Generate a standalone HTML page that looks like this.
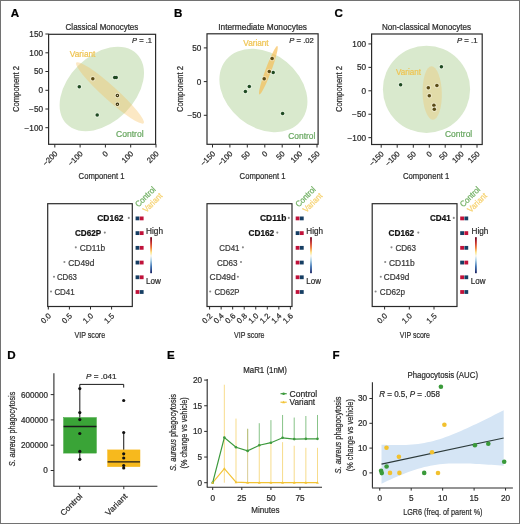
<!DOCTYPE html>
<html><head><meta charset="utf-8"><style>
html,body{margin:0;padding:0;background:#fff;}
svg{display:block;font-family:"Liberation Sans", sans-serif;will-change:transform;}
</style></head><body>
<svg width="520" height="524" viewBox="0 0 520 524">
<defs><linearGradient id="cbar" x1="0" y1="0" x2="0" y2="1"><stop offset="0" stop-color="#67001f"/><stop offset="0.15" stop-color="#c42b2b"/><stop offset="0.3" stop-color="#f4823c"/><stop offset="0.42" stop-color="#fde68a"/><stop offset="0.52" stop-color="#f7f7f2"/><stop offset="0.65" stop-color="#a9d0e6"/><stop offset="0.82" stop-color="#3a6fb0"/><stop offset="1" stop-color="#1a2060"/></linearGradient></defs>
<rect x="0" y="0" width="520" height="524" fill="#fff"/>
<text x="10.80" y="16.70" font-size="11.6" fill="#000" stroke="#000" stroke-width="0.22" font-weight="bold" >A</text>
<text x="174.00" y="16.80" font-size="11.6" fill="#000" stroke="#000" stroke-width="0.22" font-weight="bold" >B</text>
<text x="334.50" y="16.80" font-size="11.6" fill="#000" stroke="#000" stroke-width="0.22" font-weight="bold" >C</text>
<text x="7.20" y="358.60" font-size="11.6" fill="#000" stroke="#000" stroke-width="0.22" font-weight="bold" >D</text>
<text x="167.00" y="358.60" font-size="11.6" fill="#000" stroke="#000" stroke-width="0.22" font-weight="bold" >E</text>
<text x="332.40" y="358.60" font-size="11.6" fill="#000" stroke="#000" stroke-width="0.22" font-weight="bold" >F</text>
<text x="65.60" y="29.60" font-size="8.6" fill="#2b2b2b" stroke="#2b2b2b" stroke-width="0.22" textLength="72.70" lengthAdjust="spacingAndGlyphs" >Classical Monocytes</text>
<text x="132.00" y="42.6" font-size="8" fill="#2b2b2b" stroke="#2b2b2b" stroke-width="0.22" textLength="20.00" lengthAdjust="spacingAndGlyphs"><tspan font-style="italic">P</tspan> = .1</text>
<ellipse cx="101.80" cy="89.00" rx="49.60" ry="33.20" transform="rotate(-45 101.80 89.00)" fill="#d9e9cd" />
<ellipse cx="110.00" cy="92.90" rx="45.30" ry="6.90" transform="rotate(42.0 110.00 92.90)" fill="#f6bd53" fill-opacity="0.34"/>
<circle cx="79.30" cy="86.80" r="2.7" fill="#fff" stroke="none" stroke-width="0" fill-opacity="0.35"/>
<circle cx="114.70" cy="77.50" r="2.7" fill="#fff" stroke="none" stroke-width="0" fill-opacity="0.35"/>
<circle cx="116.20" cy="77.60" r="2.7" fill="#fff" stroke="none" stroke-width="0" fill-opacity="0.35"/>
<circle cx="97.20" cy="115.10" r="2.7" fill="#fff" stroke="none" stroke-width="0" fill-opacity="0.35"/>
<circle cx="79.30" cy="86.80" r="1.75" fill="#1f4a22" stroke="none" stroke-width="0" />
<circle cx="114.70" cy="77.50" r="1.75" fill="#1f4a22" stroke="none" stroke-width="0" />
<circle cx="116.20" cy="77.60" r="1.75" fill="#1f4a22" stroke="none" stroke-width="0" />
<circle cx="97.20" cy="115.10" r="1.75" fill="#1f4a22" stroke="none" stroke-width="0" />
<circle cx="92.80" cy="78.80" r="2.7" fill="#fff" stroke="none" stroke-width="0" fill-opacity="0.35"/>
<circle cx="92.80" cy="78.80" r="1.75" fill="#5a4b16" stroke="none" stroke-width="0" />
<circle cx="117.40" cy="95.40" r="2.6" fill="#fff" stroke="none" stroke-width="0" fill-opacity="0.35"/>
<circle cx="117.40" cy="95.40" r="1.2" fill="#efe2ae" stroke="#3d3410" stroke-width="1.15" />
<circle cx="117.40" cy="104.30" r="2.6" fill="#fff" stroke="none" stroke-width="0" fill-opacity="0.35"/>
<circle cx="117.40" cy="104.30" r="1.2" fill="#efe2ae" stroke="#3d3410" stroke-width="1.15" />
<text x="69.80" y="56.50" font-size="8.2" fill="#efc452" stroke="#efc452" stroke-width="0.22" textLength="25.60" lengthAdjust="spacingAndGlyphs" >Variant</text>
<text x="116.00" y="136.80" font-size="8.6" fill="#6aa862" stroke="#6aa862" stroke-width="0.22" textLength="27.60" lengthAdjust="spacingAndGlyphs" >Control</text>
<rect x="48.60" y="34.30" width="107.00" height="110.00" fill="none" stroke="#2a2a2a" stroke-width="1.2" />
<line x1="45.40" y1="34.00" x2="48.60" y2="34.00" stroke="#2a2a2a" stroke-width="1" />
<text x="43.00" y="36.90" font-size="8.2" fill="#2b2b2b" stroke="#2b2b2b" stroke-width="0.22" text-anchor="end" >150</text>
<line x1="45.40" y1="52.80" x2="48.60" y2="52.80" stroke="#2a2a2a" stroke-width="1" />
<text x="43.00" y="55.70" font-size="8.2" fill="#2b2b2b" stroke="#2b2b2b" stroke-width="0.22" text-anchor="end" >100</text>
<line x1="45.40" y1="71.50" x2="48.60" y2="71.50" stroke="#2a2a2a" stroke-width="1" />
<text x="43.00" y="74.40" font-size="8.2" fill="#2b2b2b" stroke="#2b2b2b" stroke-width="0.22" text-anchor="end" >50</text>
<line x1="45.40" y1="90.30" x2="48.60" y2="90.30" stroke="#2a2a2a" stroke-width="1" />
<text x="43.00" y="93.20" font-size="8.2" fill="#2b2b2b" stroke="#2b2b2b" stroke-width="0.22" text-anchor="end" >0</text>
<line x1="45.40" y1="109.00" x2="48.60" y2="109.00" stroke="#2a2a2a" stroke-width="1" />
<text x="43.00" y="111.90" font-size="8.2" fill="#2b2b2b" stroke="#2b2b2b" stroke-width="0.22" text-anchor="end" >−50</text>
<line x1="45.40" y1="127.70" x2="48.60" y2="127.70" stroke="#2a2a2a" stroke-width="1" />
<text x="43.00" y="130.60" font-size="8.2" fill="#2b2b2b" stroke="#2b2b2b" stroke-width="0.22" text-anchor="end" >−100</text>
<line x1="54.80" y1="144.30" x2="54.80" y2="147.50" stroke="#2a2a2a" stroke-width="1" />
<text x="58.00" y="154.30" font-size="7.7" fill="#2b2b2b" stroke="#2b2b2b" stroke-width="0.22" text-anchor="end" transform="rotate(-45 58.00 154.30)" >−200</text>
<line x1="80.10" y1="144.30" x2="80.10" y2="147.50" stroke="#2a2a2a" stroke-width="1" />
<text x="83.30" y="154.30" font-size="7.7" fill="#2b2b2b" stroke="#2b2b2b" stroke-width="0.22" text-anchor="end" transform="rotate(-45 83.30 154.30)" >−100</text>
<line x1="105.40" y1="144.30" x2="105.40" y2="147.50" stroke="#2a2a2a" stroke-width="1" />
<text x="108.60" y="154.30" font-size="7.7" fill="#2b2b2b" stroke="#2b2b2b" stroke-width="0.22" text-anchor="end" transform="rotate(-45 108.60 154.30)" >0</text>
<line x1="130.70" y1="144.30" x2="130.70" y2="147.50" stroke="#2a2a2a" stroke-width="1" />
<text x="133.90" y="154.30" font-size="7.7" fill="#2b2b2b" stroke="#2b2b2b" stroke-width="0.22" text-anchor="end" transform="rotate(-45 133.90 154.30)" >100</text>
<line x1="156.00" y1="144.30" x2="156.00" y2="147.50" stroke="#2a2a2a" stroke-width="1" />
<text x="159.20" y="154.30" font-size="7.7" fill="#2b2b2b" stroke="#2b2b2b" stroke-width="0.22" text-anchor="end" transform="rotate(-45 159.20 154.30)" >200</text>
<text x="78.60" y="179.00" font-size="9.7" fill="#2b2b2b" stroke="#2b2b2b" stroke-width="0.22" textLength="46.00" lengthAdjust="spacingAndGlyphs" >Component 1</text>
<text x="0" y="0" font-size="9.2" fill="#2b2b2b" stroke="#2b2b2b" stroke-width="0.22" text-anchor="middle" transform="translate(18.81 89.05) rotate(-90)" textLength="46.00" lengthAdjust="spacingAndGlyphs">Component 2</text>
<text x="218.20" y="29.60" font-size="8.6" fill="#2b2b2b" stroke="#2b2b2b" stroke-width="0.22" textLength="88.80" lengthAdjust="spacingAndGlyphs" >Intermediate Monocytes</text>
<text x="289.30" y="42.6" font-size="8" fill="#2b2b2b" stroke="#2b2b2b" stroke-width="0.22" textLength="24.50" lengthAdjust="spacingAndGlyphs"><tspan font-style="italic">P</tspan> = .02</text>
<ellipse cx="263.40" cy="90.50" rx="48.30" ry="36.70" transform="rotate(39.2 263.40 90.50)" fill="#d9e9cd" />
<ellipse cx="268.40" cy="70.20" rx="25.80" ry="2.90" transform="rotate(-69.6 268.40 70.20)" fill="#f6bd53" fill-opacity="0.68"/>
<circle cx="273.20" cy="72.40" r="2.7" fill="#fff" stroke="none" stroke-width="0" fill-opacity="0.35"/>
<circle cx="249.30" cy="86.50" r="2.7" fill="#fff" stroke="none" stroke-width="0" fill-opacity="0.35"/>
<circle cx="245.40" cy="91.60" r="2.7" fill="#fff" stroke="none" stroke-width="0" fill-opacity="0.35"/>
<circle cx="282.60" cy="113.60" r="2.7" fill="#fff" stroke="none" stroke-width="0" fill-opacity="0.35"/>
<circle cx="273.20" cy="72.40" r="1.75" fill="#1f4a22" stroke="none" stroke-width="0" />
<circle cx="249.30" cy="86.50" r="1.75" fill="#1f4a22" stroke="none" stroke-width="0" />
<circle cx="245.40" cy="91.60" r="1.75" fill="#1f4a22" stroke="none" stroke-width="0" />
<circle cx="282.60" cy="113.60" r="1.75" fill="#1f4a22" stroke="none" stroke-width="0" />
<circle cx="272.10" cy="58.50" r="2.7" fill="#fff" stroke="none" stroke-width="0" fill-opacity="0.35"/>
<circle cx="272.10" cy="58.50" r="1.75" fill="#5a4b16" stroke="none" stroke-width="0" />
<circle cx="269.30" cy="71.40" r="2.7" fill="#fff" stroke="none" stroke-width="0" fill-opacity="0.35"/>
<circle cx="269.30" cy="71.40" r="1.75" fill="#5a4b16" stroke="none" stroke-width="0" />
<circle cx="264.20" cy="78.80" r="2.7" fill="#fff" stroke="none" stroke-width="0" fill-opacity="0.35"/>
<circle cx="264.20" cy="78.80" r="1.75" fill="#5a4b16" stroke="none" stroke-width="0" />
<text x="243.30" y="45.80" font-size="8.2" fill="#efc452" stroke="#efc452" stroke-width="0.22" textLength="25.30" lengthAdjust="spacingAndGlyphs" >Variant</text>
<text x="288.30" y="138.70" font-size="8.6" fill="#6aa862" stroke="#6aa862" stroke-width="0.22" textLength="27.00" lengthAdjust="spacingAndGlyphs" >Control</text>
<rect x="207.00" y="33.80" width="111.10" height="110.50" fill="none" stroke="#2a2a2a" stroke-width="1.2" />
<line x1="203.80" y1="47.90" x2="207.00" y2="47.90" stroke="#2a2a2a" stroke-width="1" />
<text x="201.40" y="50.80" font-size="8.2" fill="#2b2b2b" stroke="#2b2b2b" stroke-width="0.22" text-anchor="end" >50</text>
<line x1="203.80" y1="81.60" x2="207.00" y2="81.60" stroke="#2a2a2a" stroke-width="1" />
<text x="201.40" y="84.50" font-size="8.2" fill="#2b2b2b" stroke="#2b2b2b" stroke-width="0.22" text-anchor="end" >0</text>
<line x1="203.80" y1="115.30" x2="207.00" y2="115.30" stroke="#2a2a2a" stroke-width="1" />
<text x="201.40" y="118.20" font-size="8.2" fill="#2b2b2b" stroke="#2b2b2b" stroke-width="0.22" text-anchor="end" >−50</text>
<line x1="212.50" y1="144.30" x2="212.50" y2="147.50" stroke="#2a2a2a" stroke-width="1" />
<text x="215.70" y="154.30" font-size="7.7" fill="#2b2b2b" stroke="#2b2b2b" stroke-width="0.22" text-anchor="end" transform="rotate(-45 215.70 154.30)" >−150</text>
<line x1="229.90" y1="144.30" x2="229.90" y2="147.50" stroke="#2a2a2a" stroke-width="1" />
<text x="233.10" y="154.30" font-size="7.7" fill="#2b2b2b" stroke="#2b2b2b" stroke-width="0.22" text-anchor="end" transform="rotate(-45 233.10 154.30)" >−100</text>
<line x1="247.30" y1="144.30" x2="247.30" y2="147.50" stroke="#2a2a2a" stroke-width="1" />
<text x="250.50" y="154.30" font-size="7.7" fill="#2b2b2b" stroke="#2b2b2b" stroke-width="0.22" text-anchor="end" transform="rotate(-45 250.50 154.30)" >50</text>
<line x1="264.80" y1="144.30" x2="264.80" y2="147.50" stroke="#2a2a2a" stroke-width="1" />
<text x="268.00" y="154.30" font-size="7.7" fill="#2b2b2b" stroke="#2b2b2b" stroke-width="0.22" text-anchor="end" transform="rotate(-45 268.00 154.30)" >0</text>
<line x1="282.20" y1="144.30" x2="282.20" y2="147.50" stroke="#2a2a2a" stroke-width="1" />
<text x="285.40" y="154.30" font-size="7.7" fill="#2b2b2b" stroke="#2b2b2b" stroke-width="0.22" text-anchor="end" transform="rotate(-45 285.40 154.30)" >50</text>
<line x1="299.60" y1="144.30" x2="299.60" y2="147.50" stroke="#2a2a2a" stroke-width="1" />
<text x="302.80" y="154.30" font-size="7.7" fill="#2b2b2b" stroke="#2b2b2b" stroke-width="0.22" text-anchor="end" transform="rotate(-45 302.80 154.30)" >100</text>
<line x1="317.00" y1="144.30" x2="317.00" y2="147.50" stroke="#2a2a2a" stroke-width="1" />
<text x="320.20" y="154.30" font-size="7.7" fill="#2b2b2b" stroke="#2b2b2b" stroke-width="0.22" text-anchor="end" transform="rotate(-45 320.20 154.30)" >150</text>
<text x="239.60" y="179.00" font-size="9.7" fill="#2b2b2b" stroke="#2b2b2b" stroke-width="0.22" textLength="46.00" lengthAdjust="spacingAndGlyphs" >Component 1</text>
<text x="0" y="0" font-size="9.2" fill="#2b2b2b" stroke="#2b2b2b" stroke-width="0.22" text-anchor="middle" transform="translate(182.71 89.05) rotate(-90)" textLength="46.00" lengthAdjust="spacingAndGlyphs">Component 2</text>
<text x="381.90" y="29.60" font-size="8.6" fill="#2b2b2b" stroke="#2b2b2b" stroke-width="0.22" textLength="89.10" lengthAdjust="spacingAndGlyphs" >Non-classical Monocytes</text>
<text x="457.00" y="42.6" font-size="8" fill="#2b2b2b" stroke="#2b2b2b" stroke-width="0.22" textLength="20.60" lengthAdjust="spacingAndGlyphs"><tspan font-style="italic">P</tspan> = .1</text>
<ellipse cx="426.50" cy="89.30" rx="43.60" ry="43.60" transform="rotate(0 426.50 89.30)" fill="#d9e9cd" />
<ellipse cx="432.20" cy="93.00" rx="9.60" ry="26.80" transform="rotate(-1.5 432.20 93.00)" fill="#f6bd53" fill-opacity="0.3"/>
<circle cx="441.40" cy="66.80" r="2.7" fill="#fff" stroke="none" stroke-width="0" fill-opacity="0.35"/>
<circle cx="400.60" cy="84.80" r="2.7" fill="#fff" stroke="none" stroke-width="0" fill-opacity="0.35"/>
<circle cx="441.40" cy="66.80" r="1.75" fill="#1f4a22" stroke="none" stroke-width="0" />
<circle cx="400.60" cy="84.80" r="1.75" fill="#1f4a22" stroke="none" stroke-width="0" />
<circle cx="428.30" cy="87.80" r="2.7" fill="#fff" stroke="none" stroke-width="0" fill-opacity="0.35"/>
<circle cx="428.30" cy="87.80" r="1.75" fill="#5a4b16" stroke="none" stroke-width="0" />
<circle cx="436.90" cy="85.60" r="2.7" fill="#fff" stroke="none" stroke-width="0" fill-opacity="0.35"/>
<circle cx="436.90" cy="85.60" r="1.75" fill="#5a4b16" stroke="none" stroke-width="0" />
<circle cx="429.30" cy="95.80" r="2.7" fill="#fff" stroke="none" stroke-width="0" fill-opacity="0.35"/>
<circle cx="429.30" cy="95.80" r="1.75" fill="#5a4b16" stroke="none" stroke-width="0" />
<circle cx="433.90" cy="105.30" r="2.7" fill="#fff" stroke="none" stroke-width="0" fill-opacity="0.35"/>
<circle cx="433.90" cy="105.30" r="1.75" fill="#5a4b16" stroke="none" stroke-width="0" />
<circle cx="434.30" cy="109.20" r="2.7" fill="#fff" stroke="none" stroke-width="0" fill-opacity="0.35"/>
<circle cx="434.30" cy="109.20" r="1.75" fill="#5a4b16" stroke="none" stroke-width="0" />
<text x="396.00" y="74.90" font-size="8.2" fill="#efc452" stroke="#efc452" stroke-width="0.22" textLength="25.00" lengthAdjust="spacingAndGlyphs" >Variant</text>
<text x="445.00" y="137.00" font-size="8.6" fill="#6aa862" stroke="#6aa862" stroke-width="0.22" textLength="27.20" lengthAdjust="spacingAndGlyphs" >Control</text>
<rect x="371.60" y="34.00" width="110.60" height="110.50" fill="none" stroke="#2a2a2a" stroke-width="1.2" />
<line x1="368.40" y1="43.94" x2="371.60" y2="43.94" stroke="#2a2a2a" stroke-width="1" />
<text x="366.00" y="46.84" font-size="8.2" fill="#2b2b2b" stroke="#2b2b2b" stroke-width="0.22" text-anchor="end" >100</text>
<line x1="368.40" y1="67.37" x2="371.60" y2="67.37" stroke="#2a2a2a" stroke-width="1" />
<text x="366.00" y="70.27" font-size="8.2" fill="#2b2b2b" stroke="#2b2b2b" stroke-width="0.22" text-anchor="end" >50</text>
<line x1="368.40" y1="90.80" x2="371.60" y2="90.80" stroke="#2a2a2a" stroke-width="1" />
<text x="366.00" y="93.70" font-size="8.2" fill="#2b2b2b" stroke="#2b2b2b" stroke-width="0.22" text-anchor="end" >0</text>
<line x1="368.40" y1="114.23" x2="371.60" y2="114.23" stroke="#2a2a2a" stroke-width="1" />
<text x="366.00" y="117.13" font-size="8.2" fill="#2b2b2b" stroke="#2b2b2b" stroke-width="0.22" text-anchor="end" >−50</text>
<line x1="368.40" y1="137.66" x2="371.60" y2="137.66" stroke="#2a2a2a" stroke-width="1" />
<text x="366.00" y="140.56" font-size="8.2" fill="#2b2b2b" stroke="#2b2b2b" stroke-width="0.22" text-anchor="end" >−100</text>
<line x1="381.20" y1="144.50" x2="381.20" y2="147.70" stroke="#2a2a2a" stroke-width="1" />
<text x="384.40" y="154.50" font-size="7.7" fill="#2b2b2b" stroke="#2b2b2b" stroke-width="0.22" text-anchor="end" transform="rotate(-45 384.40 154.50)" >−150</text>
<line x1="397.20" y1="144.50" x2="397.20" y2="147.70" stroke="#2a2a2a" stroke-width="1" />
<text x="400.40" y="154.50" font-size="7.7" fill="#2b2b2b" stroke="#2b2b2b" stroke-width="0.22" text-anchor="end" transform="rotate(-45 400.40 154.50)" >−100</text>
<line x1="413.30" y1="144.50" x2="413.30" y2="147.70" stroke="#2a2a2a" stroke-width="1" />
<text x="416.50" y="154.50" font-size="7.7" fill="#2b2b2b" stroke="#2b2b2b" stroke-width="0.22" text-anchor="end" transform="rotate(-45 416.50 154.50)" >50</text>
<line x1="429.30" y1="144.50" x2="429.30" y2="147.70" stroke="#2a2a2a" stroke-width="1" />
<text x="432.50" y="154.50" font-size="7.7" fill="#2b2b2b" stroke="#2b2b2b" stroke-width="0.22" text-anchor="end" transform="rotate(-45 432.50 154.50)" >0</text>
<line x1="445.20" y1="144.50" x2="445.20" y2="147.70" stroke="#2a2a2a" stroke-width="1" />
<text x="448.40" y="154.50" font-size="7.7" fill="#2b2b2b" stroke="#2b2b2b" stroke-width="0.22" text-anchor="end" transform="rotate(-45 448.40 154.50)" >50</text>
<line x1="461.10" y1="144.50" x2="461.10" y2="147.70" stroke="#2a2a2a" stroke-width="1" />
<text x="464.30" y="154.50" font-size="7.7" fill="#2b2b2b" stroke="#2b2b2b" stroke-width="0.22" text-anchor="end" transform="rotate(-45 464.30 154.50)" >100</text>
<line x1="477.00" y1="144.50" x2="477.00" y2="147.70" stroke="#2a2a2a" stroke-width="1" />
<text x="480.20" y="154.50" font-size="7.7" fill="#2b2b2b" stroke="#2b2b2b" stroke-width="0.22" text-anchor="end" transform="rotate(-45 480.20 154.50)" >150</text>
<text x="403.00" y="179.00" font-size="9.7" fill="#2b2b2b" stroke="#2b2b2b" stroke-width="0.22" textLength="46.30" lengthAdjust="spacingAndGlyphs" >Component 1</text>
<text x="0" y="0" font-size="9.2" fill="#2b2b2b" stroke="#2b2b2b" stroke-width="0.22" text-anchor="middle" transform="translate(341.71 89.05) rotate(-90)" textLength="46.00" lengthAdjust="spacingAndGlyphs">Component 2</text>
<rect x="47.70" y="203.70" width="84.60" height="102.80" fill="none" stroke="#2a2a2a" stroke-width="1.2" />
<circle cx="128.80" cy="217.90" r="1.05" fill="#888" stroke="none" stroke-width="0" />
<text x="97.30" y="221.40" font-size="8.6" fill="#111" stroke="#111" stroke-width="0.22" font-weight="bold" textLength="26.20" lengthAdjust="spacingAndGlyphs" >CD162</text>
<circle cx="104.80" cy="232.62" r="1.05" fill="#888" stroke="none" stroke-width="0" />
<text x="75.00" y="236.12" font-size="8.6" fill="#111" stroke="#111" stroke-width="0.22" font-weight="bold" textLength="26.20" lengthAdjust="spacingAndGlyphs" >CD62P</text>
<circle cx="75.80" cy="247.34" r="1.05" fill="#888" stroke="none" stroke-width="0" />
<text x="79.80" y="250.84" font-size="8.6" fill="#3a3a3a" stroke="#3a3a3a" stroke-width="0.22" textLength="25.40" lengthAdjust="spacingAndGlyphs" >CD11b</text>
<circle cx="64.40" cy="262.06" r="1.05" fill="#888" stroke="none" stroke-width="0" />
<text x="68.30" y="265.56" font-size="8.6" fill="#3a3a3a" stroke="#3a3a3a" stroke-width="0.22" textLength="26.10" lengthAdjust="spacingAndGlyphs" >CD49d</text>
<circle cx="54.00" cy="276.78" r="1.05" fill="#888" stroke="none" stroke-width="0" />
<text x="56.90" y="280.28" font-size="8.6" fill="#3a3a3a" stroke="#3a3a3a" stroke-width="0.22" textLength="20.10" lengthAdjust="spacingAndGlyphs" >CD63</text>
<circle cx="51.00" cy="291.50" r="1.05" fill="#888" stroke="none" stroke-width="0" />
<text x="54.40" y="295.00" font-size="8.6" fill="#3a3a3a" stroke="#3a3a3a" stroke-width="0.22" textLength="20.30" lengthAdjust="spacingAndGlyphs" >CD41</text>
<line x1="48.30" y1="306.50" x2="48.30" y2="309.50" stroke="#2a2a2a" stroke-width="1" />
<text x="51.60" y="316.40" font-size="7.8" fill="#2b2b2b" stroke="#2b2b2b" stroke-width="0.22" text-anchor="end" transform="rotate(-45 51.60 316.40)" >0.0</text>
<line x1="69.40" y1="306.50" x2="69.40" y2="309.50" stroke="#2a2a2a" stroke-width="1" />
<text x="72.70" y="316.40" font-size="7.8" fill="#2b2b2b" stroke="#2b2b2b" stroke-width="0.22" text-anchor="end" transform="rotate(-45 72.70 316.40)" >0.5</text>
<line x1="90.50" y1="306.50" x2="90.50" y2="309.50" stroke="#2a2a2a" stroke-width="1" />
<text x="93.80" y="316.40" font-size="7.8" fill="#2b2b2b" stroke="#2b2b2b" stroke-width="0.22" text-anchor="end" transform="rotate(-45 93.80 316.40)" >1.0</text>
<line x1="111.60" y1="306.50" x2="111.60" y2="309.50" stroke="#2a2a2a" stroke-width="1" />
<text x="114.90" y="316.40" font-size="7.8" fill="#2b2b2b" stroke="#2b2b2b" stroke-width="0.22" text-anchor="end" transform="rotate(-45 114.90 316.40)" >1.5</text>
<text x="74.40" y="337.60" font-size="9.8" fill="#2b2b2b" stroke="#2b2b2b" stroke-width="0.22" textLength="30.80" lengthAdjust="spacingAndGlyphs" >VIP score</text>
<rect x="135.60" y="216.50" width="3.80" height="3.80" fill="#163e63" stroke="none" stroke-width="1" />
<rect x="139.80" y="216.50" width="3.80" height="3.80" fill="#c0123a" stroke="none" stroke-width="1" />
<rect x="135.60" y="231.22" width="3.80" height="3.80" fill="#163e63" stroke="none" stroke-width="1" />
<rect x="139.80" y="231.22" width="3.80" height="3.80" fill="#c0123a" stroke="none" stroke-width="1" />
<rect x="135.60" y="245.94" width="3.80" height="3.80" fill="#163e63" stroke="none" stroke-width="1" />
<rect x="139.80" y="245.94" width="3.80" height="3.80" fill="#c0123a" stroke="none" stroke-width="1" />
<rect x="135.60" y="260.66" width="3.80" height="3.80" fill="#163e63" stroke="none" stroke-width="1" />
<rect x="139.80" y="260.66" width="3.80" height="3.80" fill="#c0123a" stroke="none" stroke-width="1" />
<rect x="135.60" y="275.38" width="3.80" height="3.80" fill="#163e63" stroke="none" stroke-width="1" />
<rect x="139.80" y="275.38" width="3.80" height="3.80" fill="#c0123a" stroke="none" stroke-width="1" />
<rect x="135.60" y="290.10" width="3.80" height="3.80" fill="#c0123a" stroke="none" stroke-width="1" />
<rect x="139.80" y="290.10" width="3.80" height="3.80" fill="#163e63" stroke="none" stroke-width="1" />
<rect x="150.20" y="237.2" width="1.8" height="36" fill="url(#cbar)"/>
<text x="146.00" y="234.20" font-size="8.6" fill="#2b2b2b" stroke="#2b2b2b" stroke-width="0.22" textLength="17.00" lengthAdjust="spacingAndGlyphs" >High</text>
<text x="146.00" y="283.60" font-size="8.6" fill="#2b2b2b" stroke="#2b2b2b" stroke-width="0.22" textLength="14.90" lengthAdjust="spacingAndGlyphs" >Low</text>
<text x="138.60" y="207.60" font-size="8.4" fill="#72b064" stroke="#72b064" stroke-width="0.22" textLength="24.90" lengthAdjust="spacingAndGlyphs" transform="rotate(-45 138.60 207.60)" >Control</text>
<text x="146.20" y="213.00" font-size="8.4" fill="#f6d270" stroke="#f6d270" stroke-width="0.22" textLength="23.60" lengthAdjust="spacingAndGlyphs" transform="rotate(-45 146.20 213.00)" >Variant</text>
<rect x="207.00" y="203.70" width="85.00" height="102.80" fill="none" stroke="#2a2a2a" stroke-width="1.2" />
<circle cx="288.80" cy="217.90" r="1.05" fill="#888" stroke="none" stroke-width="0" />
<text x="260.00" y="221.40" font-size="8.6" fill="#111" stroke="#111" stroke-width="0.22" font-weight="bold" textLength="26.30" lengthAdjust="spacingAndGlyphs" >CD11b</text>
<circle cx="277.30" cy="232.62" r="1.05" fill="#888" stroke="none" stroke-width="0" />
<text x="248.50" y="236.12" font-size="8.6" fill="#111" stroke="#111" stroke-width="0.22" font-weight="bold" textLength="25.70" lengthAdjust="spacingAndGlyphs" >CD162</text>
<circle cx="242.90" cy="247.34" r="1.05" fill="#888" stroke="none" stroke-width="0" />
<text x="219.20" y="250.84" font-size="8.6" fill="#3a3a3a" stroke="#3a3a3a" stroke-width="0.22" textLength="20.30" lengthAdjust="spacingAndGlyphs" >CD41</text>
<circle cx="241.00" cy="262.06" r="1.05" fill="#888" stroke="none" stroke-width="0" />
<text x="216.90" y="265.56" font-size="8.6" fill="#3a3a3a" stroke="#3a3a3a" stroke-width="0.22" textLength="20.70" lengthAdjust="spacingAndGlyphs" >CD63</text>
<circle cx="237.90" cy="276.78" r="1.05" fill="#888" stroke="none" stroke-width="0" />
<text x="209.60" y="280.28" font-size="8.6" fill="#3a3a3a" stroke="#3a3a3a" stroke-width="0.22" textLength="26.10" lengthAdjust="spacingAndGlyphs" >CD49d</text>
<circle cx="210.20" cy="291.50" r="1.05" fill="#888" stroke="none" stroke-width="0" />
<text x="214.40" y="295.00" font-size="8.6" fill="#3a3a3a" stroke="#3a3a3a" stroke-width="0.22" textLength="25.10" lengthAdjust="spacingAndGlyphs" >CD62P</text>
<line x1="209.60" y1="306.50" x2="209.60" y2="309.50" stroke="#2a2a2a" stroke-width="1" />
<text x="212.90" y="316.40" font-size="7.8" fill="#2b2b2b" stroke="#2b2b2b" stroke-width="0.22" text-anchor="end" transform="rotate(-45 212.90 316.40)" >0.2</text>
<line x1="221.14" y1="306.50" x2="221.14" y2="309.50" stroke="#2a2a2a" stroke-width="1" />
<text x="224.44" y="316.40" font-size="7.8" fill="#2b2b2b" stroke="#2b2b2b" stroke-width="0.22" text-anchor="end" transform="rotate(-45 224.44 316.40)" >0.4</text>
<line x1="232.68" y1="306.50" x2="232.68" y2="309.50" stroke="#2a2a2a" stroke-width="1" />
<text x="235.98" y="316.40" font-size="7.8" fill="#2b2b2b" stroke="#2b2b2b" stroke-width="0.22" text-anchor="end" transform="rotate(-45 235.98 316.40)" >0.6</text>
<line x1="244.22" y1="306.50" x2="244.22" y2="309.50" stroke="#2a2a2a" stroke-width="1" />
<text x="247.52" y="316.40" font-size="7.8" fill="#2b2b2b" stroke="#2b2b2b" stroke-width="0.22" text-anchor="end" transform="rotate(-45 247.52 316.40)" >0.8</text>
<line x1="255.76" y1="306.50" x2="255.76" y2="309.50" stroke="#2a2a2a" stroke-width="1" />
<text x="259.06" y="316.40" font-size="7.8" fill="#2b2b2b" stroke="#2b2b2b" stroke-width="0.22" text-anchor="end" transform="rotate(-45 259.06 316.40)" >1.0</text>
<line x1="267.30" y1="306.50" x2="267.30" y2="309.50" stroke="#2a2a2a" stroke-width="1" />
<text x="270.60" y="316.40" font-size="7.8" fill="#2b2b2b" stroke="#2b2b2b" stroke-width="0.22" text-anchor="end" transform="rotate(-45 270.60 316.40)" >1.2</text>
<line x1="278.84" y1="306.50" x2="278.84" y2="309.50" stroke="#2a2a2a" stroke-width="1" />
<text x="282.14" y="316.40" font-size="7.8" fill="#2b2b2b" stroke="#2b2b2b" stroke-width="0.22" text-anchor="end" transform="rotate(-45 282.14 316.40)" >1.4</text>
<line x1="290.38" y1="306.50" x2="290.38" y2="309.50" stroke="#2a2a2a" stroke-width="1" />
<text x="293.68" y="316.40" font-size="7.8" fill="#2b2b2b" stroke="#2b2b2b" stroke-width="0.22" text-anchor="end" transform="rotate(-45 293.68 316.40)" >1.6</text>
<text x="234.10" y="337.60" font-size="9.8" fill="#2b2b2b" stroke="#2b2b2b" stroke-width="0.22" textLength="30.40" lengthAdjust="spacingAndGlyphs" >VIP score</text>
<rect x="295.70" y="216.50" width="3.80" height="3.80" fill="#c0123a" stroke="none" stroke-width="1" />
<rect x="299.90" y="216.50" width="3.80" height="3.80" fill="#163e63" stroke="none" stroke-width="1" />
<rect x="295.70" y="231.22" width="3.80" height="3.80" fill="#163e63" stroke="none" stroke-width="1" />
<rect x="299.90" y="231.22" width="3.80" height="3.80" fill="#c0123a" stroke="none" stroke-width="1" />
<rect x="295.70" y="245.94" width="3.80" height="3.80" fill="#c0123a" stroke="none" stroke-width="1" />
<rect x="299.90" y="245.94" width="3.80" height="3.80" fill="#163e63" stroke="none" stroke-width="1" />
<rect x="295.70" y="260.66" width="3.80" height="3.80" fill="#c0123a" stroke="none" stroke-width="1" />
<rect x="299.90" y="260.66" width="3.80" height="3.80" fill="#163e63" stroke="none" stroke-width="1" />
<rect x="295.70" y="275.38" width="3.80" height="3.80" fill="#c0123a" stroke="none" stroke-width="1" />
<rect x="299.90" y="275.38" width="3.80" height="3.80" fill="#163e63" stroke="none" stroke-width="1" />
<rect x="295.70" y="290.10" width="3.80" height="3.80" fill="#c0123a" stroke="none" stroke-width="1" />
<rect x="299.90" y="290.10" width="3.80" height="3.80" fill="#163e63" stroke="none" stroke-width="1" />
<rect x="310.10" y="237.2" width="1.8" height="36" fill="url(#cbar)"/>
<text x="306.30" y="234.20" font-size="8.6" fill="#2b2b2b" stroke="#2b2b2b" stroke-width="0.22" textLength="16.70" lengthAdjust="spacingAndGlyphs" >High</text>
<text x="306.30" y="283.60" font-size="8.6" fill="#2b2b2b" stroke="#2b2b2b" stroke-width="0.22" textLength="14.60" lengthAdjust="spacingAndGlyphs" >Low</text>
<text x="298.70" y="207.60" font-size="8.4" fill="#72b064" stroke="#72b064" stroke-width="0.22" textLength="24.90" lengthAdjust="spacingAndGlyphs" transform="rotate(-45 298.70 207.60)" >Control</text>
<text x="306.30" y="213.00" font-size="8.4" fill="#f6d270" stroke="#f6d270" stroke-width="0.22" textLength="23.60" lengthAdjust="spacingAndGlyphs" transform="rotate(-45 306.30 213.00)" >Variant</text>
<rect x="372.20" y="203.70" width="84.80" height="102.80" fill="none" stroke="#2a2a2a" stroke-width="1.2" />
<circle cx="453.80" cy="217.90" r="1.05" fill="#888" stroke="none" stroke-width="0" />
<text x="430.00" y="221.40" font-size="8.6" fill="#111" stroke="#111" stroke-width="0.22" font-weight="bold" textLength="20.70" lengthAdjust="spacingAndGlyphs" >CD41</text>
<circle cx="418.30" cy="232.62" r="1.05" fill="#888" stroke="none" stroke-width="0" />
<text x="388.50" y="236.12" font-size="8.6" fill="#111" stroke="#111" stroke-width="0.22" font-weight="bold" textLength="25.70" lengthAdjust="spacingAndGlyphs" >CD162</text>
<circle cx="391.50" cy="247.34" r="1.05" fill="#888" stroke="none" stroke-width="0" />
<text x="395.40" y="250.84" font-size="8.6" fill="#3a3a3a" stroke="#3a3a3a" stroke-width="0.22" textLength="20.70" lengthAdjust="spacingAndGlyphs" >CD63</text>
<circle cx="385.20" cy="262.06" r="1.05" fill="#888" stroke="none" stroke-width="0" />
<text x="389.00" y="265.56" font-size="8.6" fill="#3a3a3a" stroke="#3a3a3a" stroke-width="0.22" textLength="25.70" lengthAdjust="spacingAndGlyphs" >CD11b</text>
<circle cx="380.80" cy="276.78" r="1.05" fill="#888" stroke="none" stroke-width="0" />
<text x="383.80" y="280.28" font-size="8.6" fill="#3a3a3a" stroke="#3a3a3a" stroke-width="0.22" textLength="25.50" lengthAdjust="spacingAndGlyphs" >CD49d</text>
<circle cx="375.60" cy="291.50" r="1.05" fill="#888" stroke="none" stroke-width="0" />
<text x="379.80" y="295.00" font-size="8.6" fill="#3a3a3a" stroke="#3a3a3a" stroke-width="0.22" textLength="25.30" lengthAdjust="spacingAndGlyphs" >CD62p</text>
<line x1="384.60" y1="306.50" x2="384.60" y2="309.50" stroke="#2a2a2a" stroke-width="1" />
<text x="387.90" y="316.40" font-size="7.8" fill="#2b2b2b" stroke="#2b2b2b" stroke-width="0.22" text-anchor="end" transform="rotate(-45 387.90 316.40)" >0.0</text>
<line x1="409.30" y1="306.50" x2="409.30" y2="309.50" stroke="#2a2a2a" stroke-width="1" />
<text x="412.60" y="316.40" font-size="7.8" fill="#2b2b2b" stroke="#2b2b2b" stroke-width="0.22" text-anchor="end" transform="rotate(-45 412.60 316.40)" >1.0</text>
<line x1="434.00" y1="306.50" x2="434.00" y2="309.50" stroke="#2a2a2a" stroke-width="1" />
<text x="437.30" y="316.40" font-size="7.8" fill="#2b2b2b" stroke="#2b2b2b" stroke-width="0.22" text-anchor="end" transform="rotate(-45 437.30 316.40)" >1.5</text>
<text x="399.80" y="337.60" font-size="9.8" fill="#2b2b2b" stroke="#2b2b2b" stroke-width="0.22" textLength="30.20" lengthAdjust="spacingAndGlyphs" >VIP score</text>
<rect x="460.20" y="216.50" width="3.80" height="3.80" fill="#c0123a" stroke="none" stroke-width="1" />
<rect x="464.40" y="216.50" width="3.80" height="3.80" fill="#163e63" stroke="none" stroke-width="1" />
<rect x="460.20" y="231.22" width="3.80" height="3.80" fill="#163e63" stroke="none" stroke-width="1" />
<rect x="464.40" y="231.22" width="3.80" height="3.80" fill="#c0123a" stroke="none" stroke-width="1" />
<rect x="460.20" y="245.94" width="3.80" height="3.80" fill="#c0123a" stroke="none" stroke-width="1" />
<rect x="464.40" y="245.94" width="3.80" height="3.80" fill="#163e63" stroke="none" stroke-width="1" />
<rect x="460.20" y="260.66" width="3.80" height="3.80" fill="#163e63" stroke="none" stroke-width="1" />
<rect x="464.40" y="260.66" width="3.80" height="3.80" fill="#c0123a" stroke="none" stroke-width="1" />
<rect x="460.20" y="275.38" width="3.80" height="3.80" fill="#c0123a" stroke="none" stroke-width="1" />
<rect x="464.40" y="275.38" width="3.80" height="3.80" fill="#163e63" stroke="none" stroke-width="1" />
<rect x="460.20" y="290.10" width="3.80" height="3.80" fill="#c0123a" stroke="none" stroke-width="1" />
<rect x="464.40" y="290.10" width="3.80" height="3.80" fill="#163e63" stroke="none" stroke-width="1" />
<rect x="475.00" y="237.2" width="1.8" height="36" fill="url(#cbar)"/>
<text x="471.50" y="234.20" font-size="8.6" fill="#2b2b2b" stroke="#2b2b2b" stroke-width="0.22" textLength="16.80" lengthAdjust="spacingAndGlyphs" >High</text>
<text x="470.80" y="283.60" font-size="8.6" fill="#2b2b2b" stroke="#2b2b2b" stroke-width="0.22" textLength="14.60" lengthAdjust="spacingAndGlyphs" >Low</text>
<text x="463.20" y="207.60" font-size="8.4" fill="#72b064" stroke="#72b064" stroke-width="0.22" textLength="24.90" lengthAdjust="spacingAndGlyphs" transform="rotate(-45 463.20 207.60)" >Control</text>
<text x="470.80" y="213.00" font-size="8.4" fill="#f6d270" stroke="#f6d270" stroke-width="0.22" textLength="23.60" lengthAdjust="spacingAndGlyphs" transform="rotate(-45 470.80 213.00)" >Variant</text>
<line x1="53.90" y1="373.30" x2="53.90" y2="486.20" stroke="#2a2a2a" stroke-width="1.1" />
<line x1="53.40" y1="486.20" x2="157.40" y2="486.20" stroke="#2a2a2a" stroke-width="1.1" />
<line x1="50.70" y1="394.60" x2="53.90" y2="394.60" stroke="#2a2a2a" stroke-width="1" />
<text x="47.90" y="397.50" font-size="8.2" fill="#2b2b2b" stroke="#2b2b2b" stroke-width="0.22" text-anchor="end" textLength="26.90" lengthAdjust="spacingAndGlyphs" >600000</text>
<line x1="50.70" y1="419.90" x2="53.90" y2="419.90" stroke="#2a2a2a" stroke-width="1" />
<text x="47.90" y="422.80" font-size="8.2" fill="#2b2b2b" stroke="#2b2b2b" stroke-width="0.22" text-anchor="end" textLength="26.90" lengthAdjust="spacingAndGlyphs" >400000</text>
<line x1="50.70" y1="445.20" x2="53.90" y2="445.20" stroke="#2a2a2a" stroke-width="1" />
<text x="47.90" y="448.10" font-size="8.2" fill="#2b2b2b" stroke="#2b2b2b" stroke-width="0.22" text-anchor="end" textLength="26.90" lengthAdjust="spacingAndGlyphs" >200000</text>
<line x1="50.70" y1="470.50" x2="53.90" y2="470.50" stroke="#2a2a2a" stroke-width="1" />
<text x="47.90" y="473.40" font-size="8.2" fill="#2b2b2b" stroke="#2b2b2b" stroke-width="0.22" text-anchor="end" >0</text>
<line x1="79.70" y1="486.20" x2="79.70" y2="489.20" stroke="#2a2a2a" stroke-width="1" />
<line x1="123.80" y1="486.20" x2="123.80" y2="489.20" stroke="#2a2a2a" stroke-width="1" />
<text x="82.90" y="496.80" font-size="8.0" fill="#2b2b2b" stroke="#2b2b2b" stroke-width="0.22" text-anchor="end" textLength="27.50" lengthAdjust="spacingAndGlyphs" transform="rotate(-45 82.90 496.80)" >Control</text>
<text x="128.00" y="496.80" font-size="8.0" fill="#2b2b2b" stroke="#2b2b2b" stroke-width="0.22" text-anchor="end" textLength="27.50" lengthAdjust="spacingAndGlyphs" transform="rotate(-45 128.00 496.80)" >Variant</text>
<line x1="79.80" y1="388.60" x2="79.80" y2="460.00" stroke="#2a2a2a" stroke-width="1.1" />
<rect x="63.60" y="417.60" width="32.80" height="35.50" fill="#3aa437" stroke="#3aa437" stroke-width="0.5" />
<line x1="63.60" y1="426.50" x2="96.40" y2="426.50" stroke="#1a1a1a" stroke-width="1.3" />
<line x1="123.70" y1="432.50" x2="123.70" y2="468.00" stroke="#2a2a2a" stroke-width="1.1" />
<rect x="107.60" y="449.90" width="32.40" height="16.80" fill="#f7b91d" stroke="#f7b91d" stroke-width="0.5" />
<line x1="107.60" y1="461.80" x2="140.00" y2="461.80" stroke="#1a1a1a" stroke-width="1.3" />
<circle cx="79.80" cy="388.60" r="1.6" fill="#111" stroke="none" stroke-width="0" />
<circle cx="79.80" cy="412.60" r="1.6" fill="#111" stroke="none" stroke-width="0" />
<circle cx="79.80" cy="419.60" r="1.6" fill="#111" stroke="none" stroke-width="0" />
<circle cx="79.80" cy="433.50" r="1.6" fill="#111" stroke="none" stroke-width="0" />
<circle cx="79.80" cy="451.40" r="1.6" fill="#111" stroke="none" stroke-width="0" />
<circle cx="79.80" cy="459.30" r="1.6" fill="#111" stroke="none" stroke-width="0" />
<circle cx="123.70" cy="400.50" r="1.6" fill="#111" stroke="none" stroke-width="0" />
<circle cx="123.70" cy="432.50" r="1.6" fill="#111" stroke="none" stroke-width="0" />
<circle cx="123.70" cy="453.80" r="1.6" fill="#111" stroke="none" stroke-width="0" />
<circle cx="123.70" cy="458.00" r="1.6" fill="#111" stroke="none" stroke-width="0" />
<circle cx="123.70" cy="465.50" r="1.6" fill="#111" stroke="none" stroke-width="0" />
<circle cx="123.70" cy="468.00" r="1.6" fill="#111" stroke="none" stroke-width="0" />
<polyline points="79.8,387.6 79.8,384.4 123.7,384.4 123.7,387.6" fill="none" stroke="#1a1a1a" stroke-width="1"/>
<text x="86.0" y="379.2" font-size="8" fill="#2b2b2b" stroke="#2b2b2b" stroke-width="0.22" textLength="30.5" lengthAdjust="spacingAndGlyphs"><tspan font-style="italic">P</tspan> = .041</text>
<text x="0" y="0" font-size="8.4" fill="#2b2b2b" stroke="#2b2b2b" stroke-width="0.22" text-anchor="middle" transform="translate(15.42 429.00) rotate(-90)" textLength="74.50" lengthAdjust="spacingAndGlyphs"><tspan font-style="italic">S. aureus</tspan> phagocytosis</text>
<line x1="207.20" y1="378.90" x2="207.20" y2="487.30" stroke="#2a2a2a" stroke-width="1.1" />
<line x1="206.80" y1="487.30" x2="322.00" y2="487.30" stroke="#2a2a2a" stroke-width="1.1" />
<line x1="204.20" y1="482.70" x2="207.20" y2="482.70" stroke="#2a2a2a" stroke-width="1" />
<text x="202.00" y="485.60" font-size="8.2" fill="#2b2b2b" stroke="#2b2b2b" stroke-width="0.22" text-anchor="end" >0</text>
<line x1="204.20" y1="457.05" x2="207.20" y2="457.05" stroke="#2a2a2a" stroke-width="1" />
<text x="202.00" y="459.95" font-size="8.2" fill="#2b2b2b" stroke="#2b2b2b" stroke-width="0.22" text-anchor="end" >5</text>
<line x1="204.20" y1="431.40" x2="207.20" y2="431.40" stroke="#2a2a2a" stroke-width="1" />
<text x="202.00" y="434.30" font-size="8.2" fill="#2b2b2b" stroke="#2b2b2b" stroke-width="0.22" text-anchor="end" >10</text>
<line x1="204.20" y1="405.75" x2="207.20" y2="405.75" stroke="#2a2a2a" stroke-width="1" />
<text x="202.00" y="408.65" font-size="8.2" fill="#2b2b2b" stroke="#2b2b2b" stroke-width="0.22" text-anchor="end" >15</text>
<line x1="204.20" y1="380.10" x2="207.20" y2="380.10" stroke="#2a2a2a" stroke-width="1" />
<text x="202.00" y="383.00" font-size="8.2" fill="#2b2b2b" stroke="#2b2b2b" stroke-width="0.22" text-anchor="end" >20</text>
<line x1="212.70" y1="487.30" x2="212.70" y2="490.00" stroke="#2a2a2a" stroke-width="1" />
<text x="212.70" y="501.20" font-size="8.2" fill="#2b2b2b" stroke="#2b2b2b" stroke-width="0.22" text-anchor="middle" >0</text>
<line x1="241.81" y1="487.30" x2="241.81" y2="490.00" stroke="#2a2a2a" stroke-width="1" />
<text x="241.81" y="501.20" font-size="8.2" fill="#2b2b2b" stroke="#2b2b2b" stroke-width="0.22" text-anchor="middle" >25</text>
<line x1="270.93" y1="487.30" x2="270.93" y2="490.00" stroke="#2a2a2a" stroke-width="1" />
<text x="270.93" y="501.20" font-size="8.2" fill="#2b2b2b" stroke="#2b2b2b" stroke-width="0.22" text-anchor="middle" >50</text>
<line x1="300.04" y1="487.30" x2="300.04" y2="490.00" stroke="#2a2a2a" stroke-width="1" />
<text x="300.04" y="501.20" font-size="8.2" fill="#2b2b2b" stroke="#2b2b2b" stroke-width="0.22" text-anchor="middle" >75</text>
<text x="251.30" y="513.40" font-size="9.8" fill="#2b2b2b" stroke="#2b2b2b" stroke-width="0.22" textLength="28.30" lengthAdjust="spacingAndGlyphs" >Minutes</text>
<text x="243.20" y="373.00" font-size="8.6" fill="#2b2b2b" stroke="#2b2b2b" stroke-width="0.22" textLength="43.80" lengthAdjust="spacingAndGlyphs" >MaR1 (1nM)</text>
<line x1="247.63" y1="428.83" x2="247.63" y2="450.89" stroke="#69b469" stroke-width="0.8" />
<line x1="259.28" y1="423.19" x2="259.28" y2="445.25" stroke="#69b469" stroke-width="0.8" />
<line x1="270.93" y1="420.11" x2="270.93" y2="442.69" stroke="#69b469" stroke-width="0.8" />
<line x1="282.57" y1="414.98" x2="282.57" y2="437.81" stroke="#69b469" stroke-width="0.8" />
<line x1="294.21" y1="417.55" x2="294.21" y2="439.09" stroke="#69b469" stroke-width="0.8" />
<line x1="305.86" y1="416.01" x2="305.86" y2="438.84" stroke="#69b469" stroke-width="0.8" />
<line x1="317.50" y1="414.98" x2="317.50" y2="438.84" stroke="#69b469" stroke-width="0.8" />
<line x1="247.63" y1="428.83" x2="247.63" y2="482.70" stroke="#cfc07a" stroke-width="0.8" />
<line x1="224.34" y1="384.72" x2="224.34" y2="482.70" stroke="#f5d36e" stroke-width="0.8" />
<line x1="235.99" y1="418.57" x2="235.99" y2="482.70" stroke="#f5d36e" stroke-width="0.8" />
<line x1="259.28" y1="443.71" x2="259.28" y2="482.70" stroke="#f5d36e" stroke-width="0.8" />
<line x1="270.93" y1="442.69" x2="270.93" y2="482.70" stroke="#f5d36e" stroke-width="0.8" />
<line x1="282.57" y1="442.17" x2="282.57" y2="482.70" stroke="#f5d36e" stroke-width="0.8" />
<line x1="294.21" y1="445.76" x2="294.21" y2="482.70" stroke="#f5d36e" stroke-width="0.8" />
<line x1="305.86" y1="447.82" x2="305.86" y2="482.70" stroke="#f5d36e" stroke-width="0.8" />
<line x1="317.50" y1="447.82" x2="317.50" y2="482.70" stroke="#f5d36e" stroke-width="0.8" />
<polyline points="212.70,482.70 224.34,468.59 235.99,482.19 247.63,482.70 259.28,482.70 270.93,482.70 282.57,482.70 294.21,482.70 305.86,482.70 317.50,482.70" fill="none" stroke="#f2c335" stroke-width="1.2"/>
<polyline points="212.70,482.70 224.34,437.56 235.99,447.30 247.63,450.89 259.28,445.25 270.93,442.69 282.57,437.81 294.21,439.09 305.86,438.84 317.50,438.84" fill="none" stroke="#3d9a3d" stroke-width="1.2"/>
<circle cx="212.70" cy="482.70" r="1.3" fill="#3d9a3d" stroke="none" stroke-width="0" />
<circle cx="224.34" cy="437.56" r="1.3" fill="#3d9a3d" stroke="none" stroke-width="0" />
<circle cx="235.99" cy="447.30" r="1.3" fill="#3d9a3d" stroke="none" stroke-width="0" />
<circle cx="247.63" cy="450.89" r="1.3" fill="#3d9a3d" stroke="none" stroke-width="0" />
<circle cx="259.28" cy="445.25" r="1.3" fill="#3d9a3d" stroke="none" stroke-width="0" />
<circle cx="270.93" cy="442.69" r="1.3" fill="#3d9a3d" stroke="none" stroke-width="0" />
<circle cx="282.57" cy="437.81" r="1.3" fill="#3d9a3d" stroke="none" stroke-width="0" />
<circle cx="294.21" cy="439.09" r="1.3" fill="#3d9a3d" stroke="none" stroke-width="0" />
<circle cx="305.86" cy="438.84" r="1.3" fill="#3d9a3d" stroke="none" stroke-width="0" />
<circle cx="317.50" cy="438.84" r="1.3" fill="#3d9a3d" stroke="none" stroke-width="0" />
<path d="M211.30,483.70 L212.70,481.30 L214.10,483.70 Z" fill="#f2c335"/>
<path d="M222.94,469.59 L224.34,467.19 L225.75,469.59 Z" fill="#f2c335"/>
<path d="M234.59,483.19 L235.99,480.79 L237.39,483.19 Z" fill="#f2c335"/>
<path d="M246.23,483.70 L247.63,481.30 L249.03,483.70 Z" fill="#f2c335"/>
<path d="M257.88,483.70 L259.28,481.30 L260.68,483.70 Z" fill="#f2c335"/>
<path d="M269.53,483.70 L270.93,481.30 L272.32,483.70 Z" fill="#f2c335"/>
<path d="M281.17,483.70 L282.57,481.30 L283.97,483.70 Z" fill="#f2c335"/>
<path d="M292.81,483.70 L294.21,481.30 L295.61,483.70 Z" fill="#f2c335"/>
<path d="M304.46,483.70 L305.86,481.30 L307.26,483.70 Z" fill="#f2c335"/>
<path d="M316.11,483.70 L317.50,481.30 L318.90,483.70 Z" fill="#f2c335"/>
<line x1="280.50" y1="393.70" x2="286.70" y2="393.70" stroke="#3d9a3d" stroke-width="1.2" />
<circle cx="283.60" cy="393.70" r="1.3" fill="#3d9a3d" stroke="none" stroke-width="0" />
<text x="289.60" y="396.70" font-size="8.6" fill="#2b2b2b" stroke="#2b2b2b" stroke-width="0.22" textLength="27.60" lengthAdjust="spacingAndGlyphs" >Control</text>
<line x1="280.50" y1="402.20" x2="286.70" y2="402.20" stroke="#f2c335" stroke-width="1.2" />
<path d="M282.2,403.2 L283.6,400.8 L285.0,403.2 Z" fill="#f2c335"/>
<text x="289.60" y="405.20" font-size="8.6" fill="#2b2b2b" stroke="#2b2b2b" stroke-width="0.22" textLength="25.50" lengthAdjust="spacingAndGlyphs" >Variant</text>
<text x="0" y="0" font-size="8.4" fill="#2b2b2b" stroke="#2b2b2b" stroke-width="0.22" text-anchor="middle" transform="translate(175.62 432.40) rotate(-90)" textLength="76.70" lengthAdjust="spacingAndGlyphs"><tspan font-style="italic">S. aureus</tspan> phagocytosis</text>
<text x="0" y="0" font-size="8.4" fill="#2b2b2b" stroke="#2b2b2b" stroke-width="0.22" text-anchor="middle" transform="translate(186.82 432.90) rotate(-90)" textLength="71.30" lengthAdjust="spacingAndGlyphs">(% change vs vehicle)</text>
<polygon points="381.50,444.66 384.56,444.79 387.61,444.91 390.67,444.99 393.72,445.05 396.77,445.07 399.83,445.06 402.88,445.01 405.94,444.91 409.00,444.75 412.05,444.54 415.11,444.26 418.16,443.90 421.21,443.48 424.27,442.97 427.32,442.37 430.38,441.69 433.44,440.93 436.49,440.08 439.55,439.16 442.60,438.16 445.65,437.09 448.71,435.96 451.76,434.78 454.82,433.54 457.88,432.26 460.93,430.94 463.99,429.59 467.04,428.21 470.10,426.80 473.15,425.36 476.20,423.91 479.26,422.43 482.31,420.94 485.37,419.43 488.43,417.92 491.48,416.39 494.53,414.85 497.59,413.30 500.64,411.74 503.70,410.17 503.70,465.83 500.64,465.57 497.59,465.32 494.53,465.08 491.48,464.85 488.43,464.63 485.37,464.43 482.31,464.23 479.26,464.05 476.20,463.89 473.15,463.74 470.10,463.61 467.04,463.51 463.99,463.44 460.93,463.40 457.88,463.39 454.82,463.42 451.76,463.49 448.71,463.62 445.65,463.80 442.60,464.04 439.55,464.35 436.49,464.74 433.44,465.20 430.38,465.75 427.32,466.38 424.27,467.09 421.21,467.89 418.16,468.78 415.11,469.73 412.05,470.76 409.00,471.86 405.94,473.01 402.88,474.22 399.83,475.48 396.77,476.78 393.72,478.11 390.67,479.48 387.61,480.87 384.56,482.30 381.50,483.74" fill="#d5e5f5"/>
<line x1="381.50" y1="464.20" x2="503.70" y2="438.00" stroke="#2c3a3a" stroke-width="1.2" />
<circle cx="440.90" cy="386.70" r="2.3" fill="#3a9a3a" stroke="none" stroke-width="0" />
<circle cx="474.90" cy="445.20" r="2.3" fill="#3a9a3a" stroke="none" stroke-width="0" />
<circle cx="488.30" cy="443.80" r="2.3" fill="#3a9a3a" stroke="none" stroke-width="0" />
<circle cx="504.20" cy="461.70" r="2.3" fill="#3a9a3a" stroke="none" stroke-width="0" />
<circle cx="424.20" cy="472.90" r="2.3" fill="#3a9a3a" stroke="none" stroke-width="0" />
<circle cx="386.60" cy="466.50" r="2.3" fill="#3a9a3a" stroke="none" stroke-width="0" />
<circle cx="381.10" cy="470.80" r="2.3" fill="#3a9a3a" stroke="none" stroke-width="0" />
<circle cx="381.80" cy="473.10" r="2.3" fill="#3a9a3a" stroke="none" stroke-width="0" />
<circle cx="444.40" cy="424.80" r="2.3" fill="#f2c12e" stroke="none" stroke-width="0" />
<circle cx="386.50" cy="447.70" r="2.3" fill="#f2c12e" stroke="none" stroke-width="0" />
<circle cx="398.90" cy="456.80" r="2.3" fill="#f2c12e" stroke="none" stroke-width="0" />
<circle cx="432.00" cy="452.30" r="2.3" fill="#f2c12e" stroke="none" stroke-width="0" />
<circle cx="390.00" cy="472.90" r="2.3" fill="#f2c12e" stroke="none" stroke-width="0" />
<circle cx="399.40" cy="472.90" r="2.3" fill="#f2c12e" stroke="none" stroke-width="0" />
<circle cx="438.00" cy="473.00" r="2.3" fill="#f2c12e" stroke="none" stroke-width="0" />
<line x1="372.40" y1="382.30" x2="372.40" y2="487.70" stroke="#2a2a2a" stroke-width="1.1" />
<line x1="372.00" y1="488.00" x2="512.90" y2="488.00" stroke="#2a2a2a" stroke-width="1.1" />
<line x1="369.40" y1="472.90" x2="372.40" y2="472.90" stroke="#2a2a2a" stroke-width="1" />
<text x="367.00" y="475.80" font-size="8.2" fill="#2b2b2b" stroke="#2b2b2b" stroke-width="0.22" text-anchor="end" >0</text>
<line x1="369.40" y1="448.10" x2="372.40" y2="448.10" stroke="#2a2a2a" stroke-width="1" />
<text x="367.00" y="451.00" font-size="8.2" fill="#2b2b2b" stroke="#2b2b2b" stroke-width="0.22" text-anchor="end" >10</text>
<line x1="369.40" y1="423.30" x2="372.40" y2="423.30" stroke="#2a2a2a" stroke-width="1" />
<text x="367.00" y="426.20" font-size="8.2" fill="#2b2b2b" stroke="#2b2b2b" stroke-width="0.22" text-anchor="end" >20</text>
<line x1="369.40" y1="398.50" x2="372.40" y2="398.50" stroke="#2a2a2a" stroke-width="1" />
<text x="367.00" y="401.40" font-size="8.2" fill="#2b2b2b" stroke="#2b2b2b" stroke-width="0.22" text-anchor="end" >30</text>
<line x1="379.75" y1="488.00" x2="379.75" y2="490.60" stroke="#2a2a2a" stroke-width="1" />
<text x="379.75" y="500.90" font-size="8.2" fill="#2b2b2b" stroke="#2b2b2b" stroke-width="0.22" text-anchor="middle" >0</text>
<line x1="411.20" y1="488.00" x2="411.20" y2="490.60" stroke="#2a2a2a" stroke-width="1" />
<text x="411.20" y="500.90" font-size="8.2" fill="#2b2b2b" stroke="#2b2b2b" stroke-width="0.22" text-anchor="middle" >5</text>
<line x1="442.65" y1="488.00" x2="442.65" y2="490.60" stroke="#2a2a2a" stroke-width="1" />
<text x="442.65" y="500.90" font-size="8.2" fill="#2b2b2b" stroke="#2b2b2b" stroke-width="0.22" text-anchor="middle" >10</text>
<line x1="474.10" y1="488.00" x2="474.10" y2="490.60" stroke="#2a2a2a" stroke-width="1" />
<text x="474.10" y="500.90" font-size="8.2" fill="#2b2b2b" stroke="#2b2b2b" stroke-width="0.22" text-anchor="middle" >15</text>
<line x1="505.55" y1="488.00" x2="505.55" y2="490.60" stroke="#2a2a2a" stroke-width="1" />
<text x="505.55" y="500.90" font-size="8.2" fill="#2b2b2b" stroke="#2b2b2b" stroke-width="0.22" text-anchor="middle" >20</text>
<text x="403.20" y="514.80" font-size="9.8" fill="#2b2b2b" stroke="#2b2b2b" stroke-width="0.22" textLength="79.30" lengthAdjust="spacingAndGlyphs" >LGR6 (freq. of parent %)</text>
<text x="407.50" y="377.50" font-size="8.4" fill="#2b2b2b" stroke="#2b2b2b" stroke-width="0.22" textLength="70.50" lengthAdjust="spacingAndGlyphs" >Phagocytosis (AUC)</text>
<text x="379.2" y="397.0" font-size="8.4" fill="#2b2b2b" stroke="#2b2b2b" stroke-width="0.22" textLength="60.7" lengthAdjust="spacingAndGlyphs"><tspan font-style="italic">R</tspan> = 0.5, <tspan font-style="italic">P</tspan> = .058</text>
<text x="0" y="0" font-size="8.4" fill="#2b2b2b" stroke="#2b2b2b" stroke-width="0.22" text-anchor="middle" transform="translate(341.02 435.00) rotate(-90)" textLength="76.80" lengthAdjust="spacingAndGlyphs"><tspan font-style="italic">S. aureus</tspan> phagocytosis</text>
<text x="0" y="0" font-size="8.4" fill="#2b2b2b" stroke="#2b2b2b" stroke-width="0.22" text-anchor="middle" transform="translate(352.52 435.20) rotate(-90)" textLength="72.20" lengthAdjust="spacingAndGlyphs">(% change vs vehicle)</text>
<rect x="0.5" y="0.5" width="519" height="523" fill="none" stroke="#727272" stroke-width="1"/>
</svg>
</body></html>
